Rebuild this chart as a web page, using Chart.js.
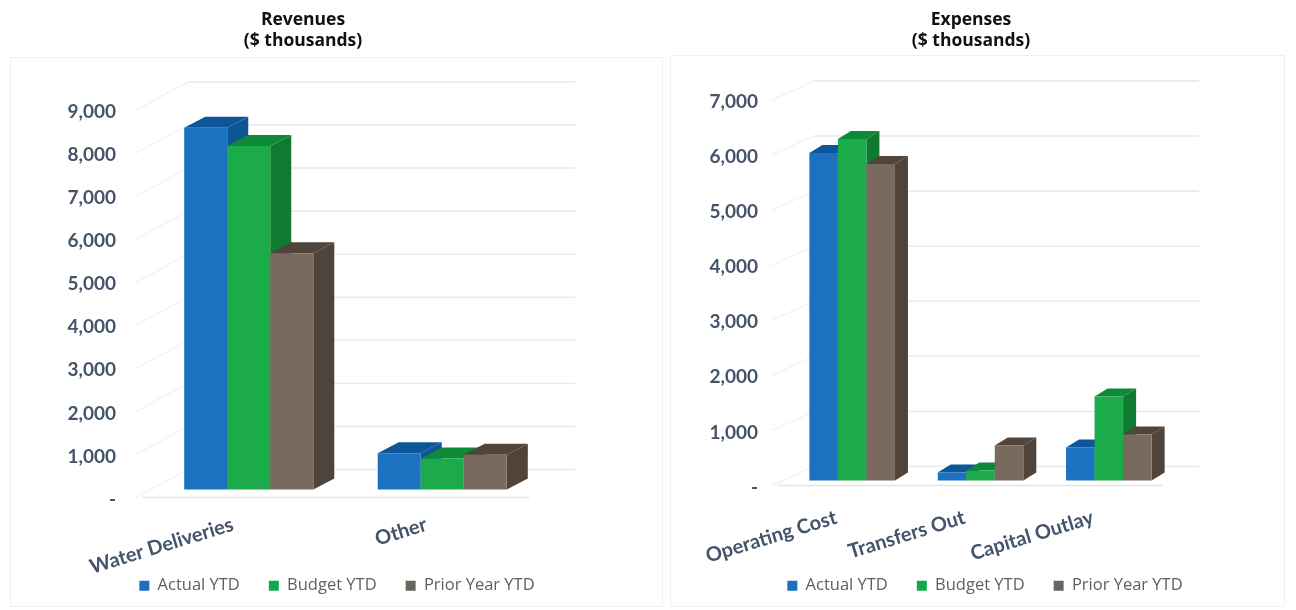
<!DOCTYPE html>
<html>
<head>
<meta charset="utf-8">
<title>Revenues and Expenses</title>
<script src="https://cdn.jsdelivr.net/npm/chart.js@4"></script>
<style>
  html, body { margin: 0; padding: 0; background: #fff; overflow: hidden; width: 1296px; height: 610px; }
  .frame { position: absolute; border: 1px solid #efefef; box-sizing: border-box; }
  canvas { position: absolute; top: 0; }
</style>
</head>
<body>
<div class="frame" style="left:10px;top:57px;width:653px;height:550px"></div>
<div class="frame" style="left:670px;top:55px;width:615px;height:552px"></div>
<canvas id="revenueChart" width="674" height="604" style="left:0"></canvas>
<canvas id="expenseChart" width="622" height="604" style="left:674px"></canvas>
<script>
const seriesNames = ["Actual YTD", "Budget YTD", "Prior Year YTD"];

const revenueCategories = ["Water Deliveries", "Other"];
const revenueActual = [8400, 840];
const revenueBudget = [7980, 720];
const revenuePrior = [5490, 810];

const expenseCategories = ["Operating Cost", "Transfers Out", "Capital Outlay"];
const expenseActual = [5945, 145, 600];
const expenseBudget = [6200, 180, 1525];
const expensePrior = [5745, 635, 835];

// front, side, top colours for each series, plus the legend swatch
const blue = { front: "#1b72bf", side: "#0f5596", top: "#0d5699", key: "#1c6fbd" };
const green = { front: "#1bab4a", side: "#0f7a30", top: "#0d8a37", key: "#12a84e" };
const brown = { front: "#7a6a5e", side: "#4f433a", top: "#50443b", key: "#68665f" };
const textColor = "#44546a";

// Fakes the 3D look: back wall lines plus side and top faces on each bar
const fake3d = {
  id: "fake3d",
  afterLayout(chart, args, opts) {
    const t = chart.titleBlock;
    t.left = 0;
    t.right = opts.titleCenter * 2;
    // legend centres on the whole canvas, not on what layout padding leaves
    chart.legend.right = chart.width;
    // rotated labels run down past the axis box, do not let them get clipped
    chart.scales.x.bottom = chart.height;
  },
  beforeDatasetsDraw(chart, args, opts) {
    const ctx = chart.ctx;
    const area = chart.chartArea;
    const yScale = chart.scales.y;
    ctx.save();
    ctx.lineWidth = 1.5;
    yScale.ticks.forEach((tick, i) => {
      const py = yScale.getPixelForTick(i);
      ctx.strokeStyle = "#f3f3f3";
      ctx.beginPath();
      ctx.moveTo(area.left - 6, py);
      ctx.lineTo(area.left + opts.wall[0], py + opts.wall[1]);
      ctx.stroke();
      ctx.strokeStyle = "#e9e9e9";
      ctx.beginPath();
      ctx.moveTo(area.left + opts.wall[0], py + opts.wall[1]);
      ctx.lineTo(area.right + opts.wall[0], py + opts.wall[1]);
      ctx.stroke();
    });
    ctx.strokeStyle = "#e4e4e4";
    ctx.beginPath();
    ctx.moveTo(area.left, area.bottom);
    ctx.lineTo(area.right, area.bottom);
    ctx.stroke();
    ctx.restore();

    // blue first so each next bar covers the side of the one before it
    const [dx, dy] = opts.depth;
    ctx.save();
    ctx.translate(opts.shift[0], opts.shift[1]);
    chart.data.datasets.forEach((dataset, index) => {
      const colors = dataset.faces;
      chart.getDatasetMeta(index).data.forEach(bar => {
        const { x, y, base, width } = bar.getProps(["x", "y", "base", "width"], true);
        const right = x + width / 2;
        const left = x - width / 2;
        ctx.fillStyle = colors.side;
        ctx.beginPath();
        ctx.moveTo(right, y);
        ctx.lineTo(right + dx, y + dy);
        ctx.lineTo(right + dx, base + dy);
        ctx.lineTo(right, base);
        ctx.closePath();
        ctx.fill();
        ctx.fillStyle = colors.top;
        ctx.beginPath();
        ctx.moveTo(left, y);
        ctx.lineTo(left + dx, y + dy);
        ctx.lineTo(right + dx, y + dy);
        ctx.lineTo(right, y);
        ctx.closePath();
        ctx.fill();
        bar.draw(ctx);
      });
    });
    ctx.restore();
    return false;
  }
};

function createChart(id, title, categories, actual, budget, prior, maxValue, look) {
  const ctx = document.getElementById(id).getContext("2d");
  const makeSet = (i, values, faces) => ({
    label: seriesNames[i],
    data: values,
    faces: faces,
    backgroundColor: faces.front,
    borderWidth: 0,
    categoryPercentage: 0.667,
    barPercentage: 1
  });
  return new Chart(ctx, {
    type: "bar",
    plugins: [fake3d],
    data: {
      labels: categories,
      datasets: [makeSet(0, actual, blue), makeSet(1, budget, green), makeSet(2, prior, brown)]
    },
    options: {
      responsive: false,
      animation: false,
      layout: { padding: { right: look.rightPad } },
      plugins: {
        fake3d: look,
        tooltip: { enabled: false },
        title: {
          display: true,
          text: [title, "($ thousands)"],
          color: "#111",
          font: { family: "Open Sans", size: 17.5, weight: "bold", lineHeight: 1.2 },
          padding: { top: 10, bottom: look.top - 52 }
        },
        legend: {
          position: "bottom",
          labels: {
            font: { family: "Open Sans", size: 16.5 },
            color: "#5c5f63",
            boxWidth: 10,
            boxHeight: 10,
            padding: 29,
            generateLabels(chart) {
              const items = Chart.defaults.plugins.legend.labels.generateLabels(chart);
              items.forEach(item => {
                item.fillStyle = chart.data.datasets[item.datasetIndex].faces.key;
              });
              return items;
            }
          }
        }
      },
      scales: {
        x: {
          grid: { display: false, drawTicks: false },
          border: { display: false },
          afterFit(scale) { scale.height = look.xHeight; },
          ticks: {
            autoSkip: false,
            minRotation: 17,
            maxRotation: 17,
            padding: look.xPad,
            labelOffset: -6,
            color: textColor,
            font: { family: "Lato", size: 20, weight: "bold" }
          }
        },
        y: {
          min: 0,
          max: maxValue,
          grid: { display: false, drawTicks: false },
          border: { display: false },
          afterFit(scale) { scale.width = look.yWidth; },
          ticks: {
            stepSize: 1000,
            padding: look.yPad,
            labelOffset: 2,
            color: textColor,
            font: { family: "Lato", size: 19, weight: "bold" },
            callback: value => value === 0 ? "-" : value.toLocaleString("en-US")
          }
        }
      }
    }
  });
}

createChart("revenueChart", "Revenues", revenueCategories, revenueActual, revenueBudget, revenuePrior, 9000, {
  top: 110, xHeight: 51, xPad: 15, yWidth: 142, yPad: 26, rightPad: 145,
  titleCenter: 303, wall: [46, -28], shift: [10, -8], depth: [21, -11]
});
createChart("expenseChart", "Expenses", expenseCategories, expenseActual, expenseBudget, expensePrior, 7000, {
  top: 100, xHeight: 63, xPad: 20, yWidth: 104, yPad: 20, rightPad: 133,
  titleCenter: 297, wall: [36, -19], shift: [10, -5], depth: [13, -8]
});
</script>
</body>
</html>
